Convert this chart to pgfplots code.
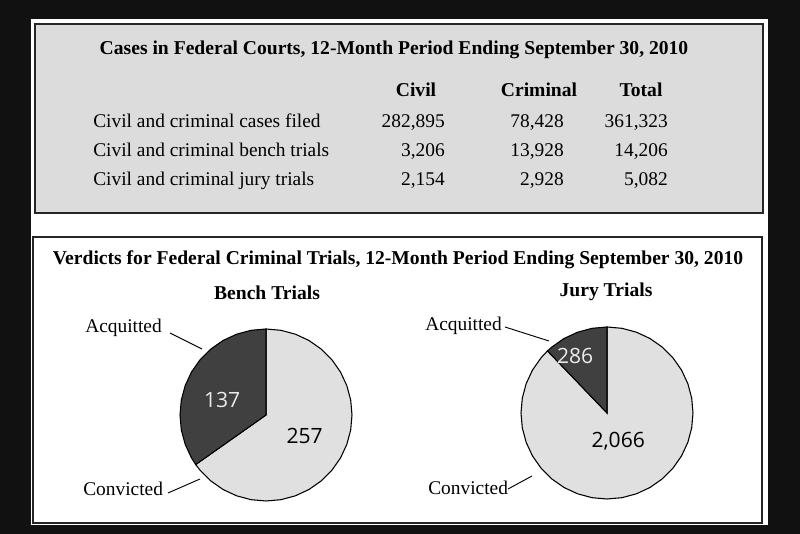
\documentclass[border=0pt]{standalone}
\usepackage{pgfplots}
\pgfplotsset{compat=1.18}
\usepackage{fontspec}
\setmainfont{Liberation Serif}
\newfontfamily\piefont{Open Sans}
\definecolor{bgblack}{HTML}{111111}
\definecolor{tablegray}{HTML}{DCDCDC}
\definecolor{lightslice}{HTML}{E0E0E0}
\definecolor{darkslice}{HTML}{404040}
\newcommand{\body}{\fontsize{14.55}{17}\selectfont}
\newcommand{\ttl}{\fontsize{14.7}{17}\selectfont\bfseries}
\newcommand{\pnum}{\piefont\fontsize{15.8}{18}\selectfont}
\begin{document}
\begin{tikzpicture}
\begin{scope}[x=0.75pt,y=-0.75pt]
\fill[bgblack] (0,0) rectangle (800,534);
\fill[white] (31,19) rectangle (768,525);
\filldraw[fill=tablegray, draw=black!85, line width=1.2pt] (35,24) rectangle (763,213);
\draw[black!85, line width=0.8pt] (33,237) rectangle (762,523);
% table
\node[anchor=base, font=\ttl] at (394,55) {Cases in Federal Courts, 12-Month Period Ending September 30, 2010};
\node[anchor=base, font=\ttl] at (416,97) {Civil};
\node[anchor=base, font=\ttl] at (539,97) {Criminal};
\node[anchor=base, font=\ttl] at (641,97) {Total};
\node[anchor=base west, font=\body, inner sep=0pt] at (93,128) {Civil and criminal cases filed};
\node[anchor=base west, font=\body, inner sep=0pt] at (93,157) {Civil and criminal bench trials};
\node[anchor=base west, font=\body, inner sep=0pt] at (93,186) {Civil and criminal jury trials};
\node[anchor=base east, font=\body, inner sep=0pt] at (445,128) {282,895};
\node[anchor=base east, font=\body, inner sep=0pt] at (445,157) {3,206};
\node[anchor=base east, font=\body, inner sep=0pt] at (445,186) {2,154};
\node[anchor=base east, font=\body, inner sep=0pt] at (564,128) {78,428};
\node[anchor=base east, font=\body, inner sep=0pt] at (564,157) {13,928};
\node[anchor=base east, font=\body, inner sep=0pt] at (564,186) {2,928};
\node[anchor=base east, font=\body, inner sep=0pt] at (668,128) {361,323};
\node[anchor=base east, font=\body, inner sep=0pt] at (668,157) {14,206};
\node[anchor=base east, font=\body, inner sep=0pt] at (668,186) {5,082};
% verdicts
\node[anchor=base, font=\ttl] at (398,265) {Verdicts for Federal Criminal Trials, 12-Month Period Ending September 30, 2010};
\node[anchor=base, font=\ttl] at (267,300) {Bench Trials};
\node[anchor=base, font=\ttl] at (606,297) {Jury Trials};
\node[anchor=base west, font=\body, inner sep=0pt] at (85,333) {Acquitted};
\node[anchor=base west, font=\body, inner sep=0pt] at (83,496) {Convicted};
\node[anchor=base west, font=\body, inner sep=0pt] at (425,331) {Acquitted};
\node[anchor=base west, font=\body, inner sep=0pt] at (428,494) {Convicted};
\draw[black, line width=0.7pt] (170,333) -- (202,349);
\draw[black, line width=0.7pt] (168,493) -- (200,479);
\draw[black, line width=0.7pt] (505,327) -- (549,341);
\draw[black, line width=0.7pt] (508,489) -- (532,476);
\coordinate (bench) at (266,415);
\coordinate (jury) at (607,413);
\end{scope}
% Bench trials: acquitted 137, convicted 257 (angles in degrees, radius 1)
\begin{axis}[at={(bench)}, anchor=center, hide axis, scale only axis,
  width=129pt, height=129pt, xmin=-1, xmax=1, ymin=-1, ymax=1, clip=false]
\addplot[data cs=polar, fill=lightslice, draw=black, line width=0.8pt, mark=none] coordinates {
(0,0) (215.18,1) (220,1) (230,1) (240,1) (250,1) (260,1) (270,1) (280,1) (290,1) (300,1)
(310,1) (320,1) (330,1) (340,1) (350,1) (360,1) (370,1) (380,1) (390,1) (400,1) (410,1)
(420,1) (430,1) (440,1) (450,1)} -- cycle;
\addplot[data cs=polar, fill=darkslice, draw=black, line width=0.8pt, mark=none] coordinates {
(0,0) (90,1) (100,1) (110,1) (120,1) (130,1) (140,1) (150,1) (160,1) (170,1) (180,1)
(190,1) (200,1) (210,1) (215.18,1)} -- cycle;
\node[font=\pnum, text=white!92!black] at (axis cs:-0.51,0.17) {137};
\node[font=\pnum, text=black] at (axis cs:0.45,-0.24) {257};
\end{axis}
% Jury trials: acquitted 286, convicted 2,066
\begin{axis}[at={(jury)}, anchor=center, hide axis, scale only axis,
  width=129pt, height=129pt, xmin=-1, xmax=1, ymin=-1, ymax=1, clip=false]
\addplot[data cs=polar, fill=lightslice, draw=black, line width=0.8pt, mark=none] coordinates {
(0,0) (133.78,1) (140,1) (150,1) (160,1) (170,1) (180,1) (190,1) (200,1) (210,1) (220,1)
(230,1) (240,1) (250,1) (260,1) (270,1) (280,1) (290,1) (300,1) (310,1) (320,1) (330,1)
(340,1) (350,1) (360,1) (370,1) (380,1) (390,1) (400,1) (410,1) (420,1) (430,1) (440,1) (450,1)} -- cycle;
\addplot[data cs=polar, fill=darkslice, draw=black, line width=0.8pt, mark=none] coordinates {
(0,0) (90,1) (100,1) (110,1) (120,1) (130,1) (133.78,1)} -- cycle;
\node[font=\pnum, text=white!92!black] at (axis cs:-0.37,0.66) {286};
\node[font=\pnum, text=black] at (axis cs:0.13,-0.33) {2,066};
\end{axis}
\end{tikzpicture}
\end{document}
